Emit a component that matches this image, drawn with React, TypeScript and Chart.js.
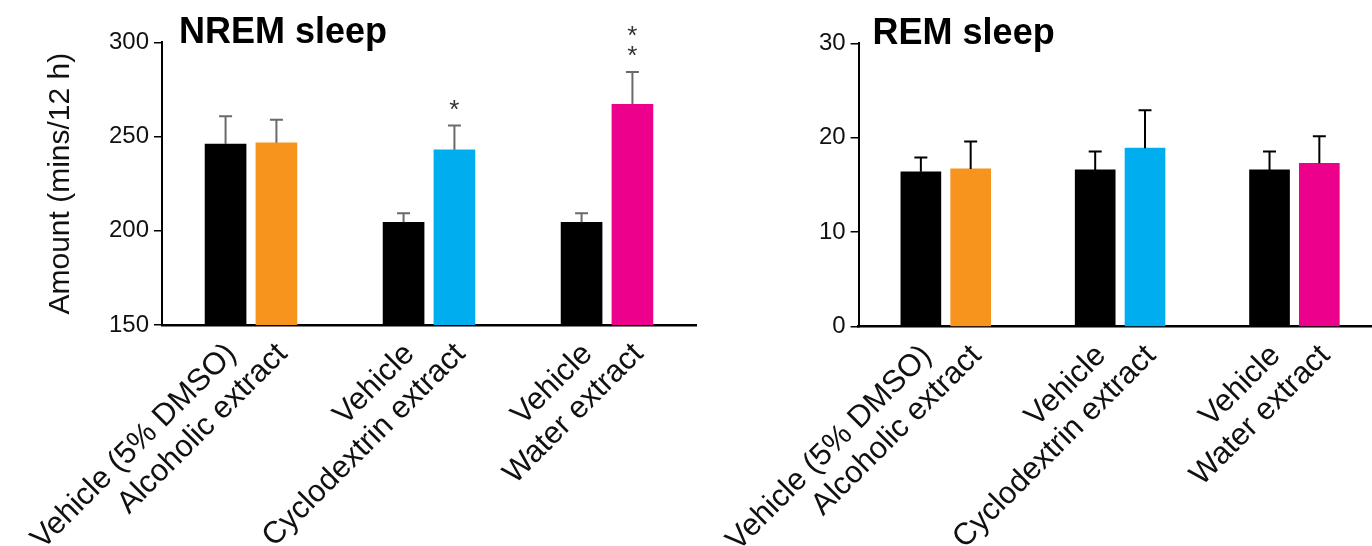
import React, { useEffect, useRef } from 'react';
import { Chart, registerables } from 'chart.js';

Chart.register(...registerables);

const FONT = '"Liberation Sans", Arial, Helvetica, sans-serif';

// ---- data ----
const categories = [
  'Vehicle (5% DMSO)',
  'Alcoholic extract',
  'Vehicle',
  'Cyclodextrin extract',
  'Vehicle',
  'Water extract',
];
const barColors = ['#000000', '#F7941D', '#000000', '#00AEEF', '#000000', '#EC008C'];

const nremMeans = [246.0, 246.7, 204.5, 243.0, 204.5, 267.1];
const nremErrors = [14.7, 12.2, 4.8, 12.8, 4.8, 17.1];
const nremSignificance = ['', '', '', '*', '', '**'];
const nremTicks = [150, 200, 250, 300];

const remMeans = [16.4, 16.7, 16.6, 18.9, 16.6, 17.3];
const remErrors = [1.5, 2.9, 1.95, 4.0, 1.95, 2.85];
const remSignificance = ['', '', '', '', '', ''];
const remTicks = [0, 10, 20, 30];

// ---- slot structure (empty category slots around/between pairs) ----
const LEAD = 2;
const WITHIN = 1;
const BETWEEN = 4;
const TRAIL = 2;

function buildSlots(): number[] {
  const slots: number[] = [];
  const empty = (n: number) => {
    for (let i = 0; i < n; i++) slots.push(-1);
  };
  empty(LEAD);
  const groups = categories.length / 2;
  for (let g = 0; g < groups; g++) {
    if (g > 0) empty(BETWEEN);
    slots.push(2 * g);
    empty(WITHIN);
    slots.push(2 * g + 1);
  }
  empty(TRAIL);
  return slots;
}

type Panel = {
  title: string;
  means: number[];
  errors: number[];
  sig: string[];
  ticks: number[];
  yTitle: string | null;
  errColor: string;
  canvasLeft: number;
  canvasWidth: number;
  areaLeft: number;
  areaWidth: number;
  areaTop: number;
  areaBottom: number;
  barThickness: number;
  titleOffset: number;
};

const H = 546;

const panels: Panel[] = [
  {
    title: 'NREM sleep',
    means: nremMeans,
    errors: nremErrors,
    sig: nremSignificance,
    ticks: nremTicks,
    yTitle: 'Amount (mins/12 h)',
    errColor: '#6a6a6a',
    canvasLeft: 0,
    canvasWidth: 700,
    areaLeft: 162,
    areaWidth: 534,
    areaTop: 42.3,
    areaBottom: 325,
    barThickness: 41,
    titleOffset: 17,
  },
  {
    title: 'REM sleep',
    means: remMeans,
    errors: remErrors,
    sig: remSignificance,
    ticks: remTicks,
    yTitle: null,
    errColor: '#000000',
    canvasLeft: 700,
    canvasWidth: 700,
    areaLeft: 158.6,
    areaWidth: 523,
    areaTop: 43.3,
    areaBottom: 326.7,
    barThickness: 40,
    titleOffset: 14,
  },
];

function PanelChart({ p }: { p: Panel }) {
  const ref = useRef<HTMLCanvasElement | null>(null);

  useEffect(() => {
    const canvas = ref.current;
    if (!canvas) return;
    const slots = buildSlots();
    const labels = slots.map((ci) => (ci < 0 ? '' : categories[ci]));
    const data = slots.map((ci) => (ci < 0 ? null : p.means[ci]));
    const colors = slots.map((ci) => (ci < 0 ? 'rgba(0,0,0,0)' : barColors[ci]));

    const overlay = {
      id: 'overlay',
      afterDatasetsDraw(chart: any) {
        const ctx: CanvasRenderingContext2D = chart.ctx;
        const meta = chart.getDatasetMeta(0);
        const y = chart.scales.y;
        slots.forEach((ci, si) => {
          if (ci < 0) return;
          const el = meta.data[si];
          const x = el.x;
          const base = y.getPixelForValue(p.means[ci]);
          const top = y.getPixelForValue(p.means[ci] + p.errors[ci]);
          ctx.save();
          ctx.strokeStyle = p.errColor;
          ctx.lineWidth = 2;
          ctx.beginPath();
          ctx.moveTo(x, base);
          ctx.lineTo(x, top);
          ctx.moveTo(x - 6.5, top);
          ctx.lineTo(x + 6.5, top);
          ctx.stroke();
          const marks = p.sig[ci];
          if (marks) {
            ctx.font = `26px ${FONT}`;
            ctx.fillStyle = '#333333';
            ctx.textAlign = 'center';
            ctx.textBaseline = 'alphabetic';
            const m = ctx.measureText('*');
            const adj = (m.actualBoundingBoxAscent - m.actualBoundingBoxDescent) / 2;
            for (let k = 0; k < marks.length; k++) {
              const cy = top - 21 - k * 20;
              ctx.fillText('*', x, cy + adj);
            }
          }
          ctx.restore();
        });
        ctx.save();
        ctx.font = `bold 36px ${FONT}`;
        ctx.fillStyle = '#000000';
        ctx.textAlign = 'left';
        ctx.textBaseline = 'alphabetic';
        ctx.fillText(p.title, chart.chartArea.left + p.titleOffset, chart.chartArea.top + 1);
        ctx.restore();
      },
    };

    const chart = new Chart(canvas, {
      type: 'bar',
      data: {
        labels,
        datasets: [
          {
            data,
            backgroundColor: colors,
            borderWidth: 0,
            barThickness: p.barThickness,
          } as any,
        ],
      },
      options: {
        animation: false,
        responsive: false,
        maintainAspectRatio: false,
        devicePixelRatio: 1,
        layout: {
          padding: {
            left: 0,
            top: p.areaTop,
            right: p.canvasWidth - p.areaLeft - p.areaWidth,
            bottom: 0,
          },
        },
        plugins: {
          legend: { display: false },
          tooltip: { enabled: false },
          title: { display: false },
        },
        scales: {
          x: {
            type: 'category',
            offset: true,
            grid: { display: false, drawTicks: false },
            border: { display: true, color: '#000000', width: 2.5 },
            ticks: {
              autoSkip: false,
              minRotation: 45,
              maxRotation: 45,
              padding: 11,
              labelOffset: 6,
              color: '#111111',
              font: { family: FONT, size: 31 },
            },
            afterFit: (s: any) => {
              s.height = H - p.areaBottom;
              s.paddingLeft = 0;
              s.paddingRight = 0;
            },
          },
          y: {
            type: 'linear',
            min: p.ticks[0],
            max: p.ticks[p.ticks.length - 1],
            grid: {
              display: true,
              drawOnChartArea: false,
              drawTicks: true,
              tickLength: 8,
              color: '#000000',
              lineWidth: 1.5,
            },
            border: { display: true, color: '#000000', width: 2 },
            ticks: {
              padding: 5,
              color: '#111111',
              font: { family: FONT, size: 24 },
            },
            afterBuildTicks: (s: any) => {
              s.ticks = p.ticks.map((v) => ({ value: v }));
            },
            title: p.yTitle
              ? {
                  display: true,
                  text: p.yTitle,
                  color: '#111111',
                  font: { family: FONT, size: 30, lineHeight: 1.2 },
                  padding: { top: 43, bottom: 0 },
                }
              : { display: false },
            afterFit: (s: any) => {
              s.width = p.areaLeft;
            },
          },
        },
      } as any,
      plugins: [overlay],
    });
    return () => chart.destroy();
  }, [p]);

  return (
    <canvas
      ref={ref}
      width={p.canvasWidth}
      height={H}
      style={{
        position: 'absolute',
        left: p.canvasLeft,
        top: 0,
        width: p.canvasWidth,
        height: H,
      }}
    />
  );
}

export default function App() {
  return (
    <div
      style={{
        position: 'fixed',
        left: 0,
        top: 0,
        width: 1372,
        height: H,
        overflow: 'hidden',
        background: '#ffffff',
      }}
    >
      {panels.map((p) => (
        <PanelChart key={p.title} p={p} />
      ))}
    </div>
  );
}
